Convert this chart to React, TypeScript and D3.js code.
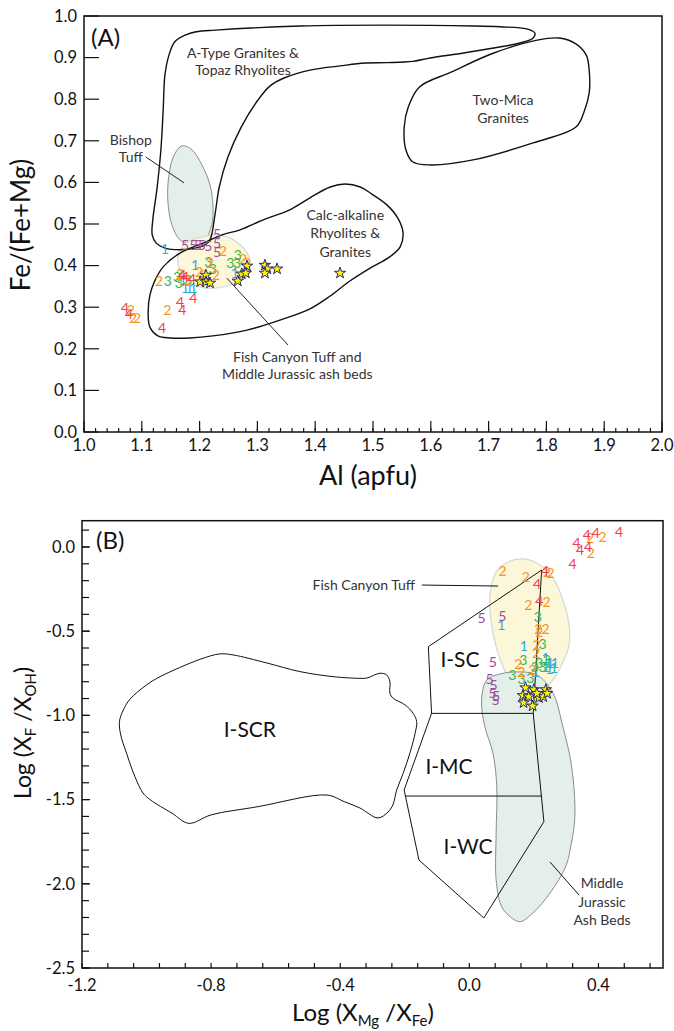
import * as d3 from "d3";

const FONT = "Lato, 'Open Sans', sans-serif";

const COLORS: Record<string, string> = {
  "1": "#29abe2",
  "2": "#f7941d",
  "3": "#3bb54a",
  "4": "#ec3f4c",
  "5": "#9c4f9f",
};

// ---------- Panel A : Fe/(Fe+Mg) vs Al (apfu) ----------
const aPts1 = [[1.14, 0.44], [1.261, 0.382], [1.192, 0.401], [1.175, 0.346], [1.182, 0.346], [1.189, 0.346], [1.171, 0.365]];
const aPts2 = [[1.24, 0.435], [1.275, 0.416], [1.282, 0.406], [1.218, 0.406], [1.199, 0.385], [1.206, 0.377], [1.228, 0.377],
  [1.178, 0.365], [1.13, 0.363], [1.166, 0.38], [1.144, 0.293], [1.081, 0.293], [1.085, 0.274], [1.092, 0.274]];
const aPts3 = [[1.253, 0.406], [1.265, 0.406], [1.266, 0.425], [1.215, 0.409], [1.223, 0.392], [1.145, 0.363], [1.161, 0.373],
  [1.164, 0.358], [1.18, 0.365]];
const aPts4 = [[1.17, 0.377], [1.175, 0.373], [1.187, 0.368], [1.189, 0.322], [1.166, 0.313], [1.17, 0.293], [1.135, 0.25],
  [1.071, 0.298], [1.078, 0.284]];
const aPts5 = [[1.175, 0.45], [1.189, 0.45], [1.197, 0.45], [1.204, 0.45], [1.215, 0.447], [1.23, 0.476], [1.23, 0.454], [1.23, 0.433]];
const aStars = [[1.282, 0.399], [1.273, 0.38], [1.28, 0.382], [1.266, 0.363], [1.313, 0.401], [1.317, 0.392], [1.313, 0.382],
  [1.334, 0.392], [1.201, 0.361], [1.211, 0.377], [1.211, 0.361], [1.218, 0.358], [1.443, 0.382]];

const aTypeField = [[1.218, 0.462], [1.227, 0.526], [1.234, 0.589], [1.249, 0.661], [1.272, 0.733], [1.301, 0.798], [1.322, 0.832],
  [1.346, 0.851], [1.391, 0.87], [1.443, 0.88], [1.486, 0.887], [1.524, 0.888], [1.569, 0.891], [1.599, 0.899], [1.657, 0.911],
  [1.709, 0.923], [1.754, 0.935], [1.777, 0.947], [1.78, 0.959], [1.766, 0.969], [1.72, 0.974], [1.673, 0.976], [1.524, 0.978],
  [1.375, 0.976], [1.227, 0.966], [1.194, 0.962], [1.175, 0.954], [1.157, 0.938], [1.147, 0.906], [1.14, 0.858], [1.137, 0.774],
  [1.133, 0.678], [1.126, 0.582], [1.119, 0.51], [1.118, 0.474], [1.125, 0.454], [1.14, 0.442], [1.166, 0.438], [1.192, 0.442],
  [1.209, 0.45]];
const twoMicaField = [[1.822, 0.947], [1.851, 0.933], [1.869, 0.906], [1.874, 0.87], [1.874, 0.815], [1.865, 0.769], [1.851, 0.733],
  [1.777, 0.695], [1.673, 0.654], [1.599, 0.642], [1.569, 0.649], [1.557, 0.678], [1.554, 0.733], [1.561, 0.781], [1.58, 0.829],
  [1.635, 0.865], [1.709, 0.911], [1.784, 0.942]];
const calcAlkField = [[1.27, 0.486], [1.31, 0.51], [1.356, 0.534], [1.391, 0.563], [1.426, 0.589], [1.452, 0.596], [1.478, 0.589],
  [1.498, 0.572], [1.524, 0.546], [1.543, 0.514], [1.552, 0.478], [1.547, 0.445], [1.529, 0.421], [1.495, 0.394], [1.46, 0.363],
  [1.426, 0.327], [1.391, 0.296], [1.339, 0.269], [1.282, 0.245], [1.223, 0.231], [1.183, 0.226], [1.149, 0.226], [1.128, 0.231],
  [1.114, 0.252], [1.111, 0.286], [1.114, 0.329], [1.123, 0.365], [1.137, 0.397], [1.166, 0.43], [1.206, 0.454], [1.239, 0.474]];
const bishopTuff = [[1.17, 0.688], [1.187, 0.678], [1.204, 0.642], [1.218, 0.594], [1.223, 0.546], [1.221, 0.498], [1.209, 0.462],
  [1.187, 0.45], [1.166, 0.462], [1.152, 0.498], [1.145, 0.558], [1.147, 0.618], [1.156, 0.666]];
const fishCanyonA = [[1.163, 0.425], [1.176, 0.454], [1.196, 0.466], [1.235, 0.474], [1.27, 0.45], [1.287, 0.413], [1.279, 0.373],
  [1.247, 0.351], [1.213, 0.346], [1.183, 0.358], [1.166, 0.389]];

const aXTicks = [1.0, 1.1, 1.2, 1.3, 1.4, 1.5, 1.6, 1.7, 1.8, 1.9, 2.0];
const aXLabels = ["1.0", "1.1", "1.2", "1.3", "1.4", "1.5", "1.6", "1.7", "1.8", "1.9", "2.0"];
const aYTicks = [0.0, 0.1, 0.2, 0.3, 0.4, 0.5, 0.6, 0.7, 0.8, 0.9, 1.0];
const aYLabels = ["0.0", "0.1", "0.2", "0.3", "0.4", "0.5", "0.6", "0.7", "0.8", "0.9", "1.0"];

// ---------- Panel B : Log(XF/XOH) vs Log(XMg/XFe) ----------
const bPts1 = [[0.099, -0.466], [0.169, -0.588], [0.236, -0.658], [0.25, -0.689], [0.265, -0.687], [0.248, -0.724], [0.262, -0.72],
  [0.205, -0.745], [0.237, -0.711]];
const bPts2 = [[0.374, 0.052], [0.413, 0.061], [0.376, -0.034], [0.103, -0.141], [0.175, -0.18], [0.241, -0.147], [0.252, -0.153],
  [0.239, -0.327], [0.183, -0.344], [0.214, -0.487], [0.236, -0.486], [0.217, -0.503], [0.208, -0.582], [0.207, -0.631],
  [0.152, -0.693], [0.161, -0.745], [0.195, -0.732]];
const bPts3 = [[0.212, -0.413], [0.227, -0.574], [0.167, -0.669], [0.217, -0.691], [0.24, -0.669], [0.227, -0.71], [0.133, -0.76],
  [0.162, -0.784], [0.189, -0.778], [0.203, -0.711]];
const bPts4 = [[0.364, 0.071], [0.392, 0.085], [0.464, 0.091], [0.332, 0.022], [0.343, -0.018], [0.368, -0.002], [0.32, -0.103],
  [0.234, -0.141], [0.21, -0.22], [0.217, -0.321]];
const bPts5 = [[0.038, -0.423], [0.102, -0.412], [0.073, -0.681], [0.063, -0.783], [0.075, -0.822], [0.072, -0.864], [0.083, -0.887],
  [0.081, -0.909]];
const bStars = [[0.174, -0.836], [0.2, -0.847], [0.237, -0.847], [0.166, -0.882], [0.184, -0.889], [0.216, -0.895], [0.229, -0.889],
  [0.168, -0.925], [0.196, -0.944], [0.241, -0.869], [0.209, -0.869]];

const iscrField = [[-0.773, -0.635], [-0.732, -0.641], [-0.627, -0.689], [-0.525, -0.74], [-0.422, -0.77], [-0.339, -0.78],
  [-0.317, -0.778], [-0.277, -0.75], [-0.256, -0.76], [-0.246, -0.8], [-0.246, -0.869], [-0.236, -0.898], [-0.199, -0.938],
  [-0.174, -0.988], [-0.163, -1.037], [-0.168, -1.106], [-0.184, -1.223], [-0.205, -1.344], [-0.225, -1.443], [-0.237, -1.532],
  [-0.252, -1.574], [-0.283, -1.609], [-0.339, -1.55], [-0.388, -1.512], [-0.441, -1.473], [-0.655, -1.542], [-0.8, -1.591],
  [-0.869, -1.641], [-0.921, -1.581], [-0.988, -1.502], [-1.011, -1.461], [-1.036, -1.364], [-1.062, -1.225], [-1.08, -1.116],
  [-1.084, -1.037], [-1.072, -0.968], [-1.051, -0.903], [-1.0, -0.819], [-0.958, -0.77], [-0.834, -0.667]];
const iFieldOutline = [[0.224, -0.137], [0.198, -0.988], [0.231, -1.631], [0.045, -2.203], [-0.156, -1.859], [-0.202, -1.443],
  [-0.117, -0.988], [-0.127, -0.592], [0.224, -0.137]];
const iscBase = [[-0.117, -0.988], [0.198, -0.988]];
const imcBase = [[-0.198, -1.479], [0.223, -1.479]];
const fishCanyonB = [[0.166, -0.071], [0.219, -0.107], [0.259, -0.184], [0.29, -0.315], [0.309, -0.463], [0.309, -0.582],
  [0.29, -0.683], [0.259, -0.79], [0.219, -0.861], [0.157, -0.861], [0.117, -0.76], [0.086, -0.612], [0.067, -0.434],
  [0.064, -0.285], [0.083, -0.149], [0.12, -0.089]];
const jurassicB = [[0.095, -0.754], [0.157, -0.742], [0.21, -0.76], [0.259, -0.867], [0.29, -1.069], [0.317, -1.305],
  [0.327, -1.601], [0.315, -1.77], [0.299, -1.895], [0.25, -2.055], [0.197, -2.173], [0.157, -2.225], [0.12, -2.185],
  [0.098, -2.126], [0.083, -1.977], [0.083, -1.698], [0.085, -1.423], [0.073, -1.223], [0.048, -1.067], [0.038, -0.909],
  [0.054, -0.79]];

const bXTicks = [-1.2, -0.8, -0.4, 0.0, 0.4];
const bXLabels = ["-1.2", "-0.8", "-0.4", "0.0", "0.4"];
const bYTicks = [0.0, -0.5, -1.0, -1.5, -2.0, -2.5];
const bYLabels = ["0.0", "-0.5", "-1.0", "-1.5", "-2.0", "-2.5"];

type Pt = number[];

function Numbers({ groups, x, y }: { groups: [string, Pt[]][]; x: any; y: any }) {
  return (
    <g fontFamily={FONT} fontSize={14} textAnchor="middle">
      {groups.map(([lab, pts]) =>
        pts.map((p, i) => (
          <text key={lab + i} x={x(p[0])} y={y(p[1])} dy="0.36em" fill={COLORS[lab]}>
            {lab}
          </text>
        ))
      )}
    </g>
  );
}

function Stars({ pts, x, y }: { pts: Pt[]; x: any; y: any }) {
  const star = d3.symbol().type(d3.symbolStar).size(40)() as string;
  return (
    <g>
      {pts.map((p, i) => (
        <path key={i} d={star} transform={`translate(${x(p[0])},${y(p[1])})`} fill="#fff200" stroke="#262a6b" strokeWidth={1} />
      ))}
    </g>
  );
}

export default function App() {
  const xA = d3.scaleLinear().domain([1, 2]).range([84, 662]);
  const yA = d3.scaleLinear().domain([0, 1]).range([432, 16]);
  const xB = d3.scaleLinear().domain([-1.2, 0.6]).range([82, 663]);
  const yB = d3.scaleLinear().domain([-2.5, 0.156]).range([968, 520.7]);

  const smoothA = d3.line<Pt>().x((d) => xA(d[0])).y((d) => yA(d[1])).curve(d3.curveCatmullRomClosed.alpha(0.5));
  const smoothB = d3.line<Pt>().x((d) => xB(d[0])).y((d) => yB(d[1])).curve(d3.curveCatmullRomClosed.alpha(0.5));
  const straightB = d3.line<Pt>().x((d) => xB(d[0])).y((d) => yB(d[1]));

  const aMinorX = d3.range(1, 2.001, 0.02);
  const bMinorX = d3.range(0, 23).map((i) => -1.2 + i * 0.08);
  const bMinorY = d3.range(0, 27).map((i) => -2.5 + i * 0.1);

  const lbl = { fontFamily: FONT, fontSize: 14, fill: "#333", textAnchor: "middle" as const };

  return (
    <svg width={674} height={1031} style={{ position: "absolute", left: 0, top: 0 }} xmlns="http://www.w3.org/2000/svg">
      <rect width={674} height={1031} fill="#fff" />

      {/* ================= Panel A ================= */}
      <path d={smoothA(bishopTuff) as string} fill="#e3efe8" stroke="#8c8c8c" strokeWidth={1} />
      <path d={smoothA(fishCanyonA) as string} fill="#fcf7d8" stroke="#d6d6d6" strokeWidth={1.2} />
      <g fill="none" stroke="#111" strokeWidth={1.4}>
        <path d={smoothA(aTypeField) as string} />
        <path d={smoothA(twoMicaField) as string} />
        <path d={smoothA(calcAlkField) as string} />
      </g>
      <g stroke="#222" strokeWidth={1}>
        <line x1={xA(1.107)} y1={yA(0.661)} x2={xA(1.173)} y2={yA(0.599)} />
        <line x1={xA(1.247)} y1={yA(0.37)} x2={xA(1.353)} y2={yA(0.209)} />
      </g>
      <g {...lbl}>
        <text x={xA(1.275)} y={yA(0.911)} dy="0.35em">A-Type Granites &amp;</text>
        <text x={xA(1.275)} y={yA(0.87)} dy="0.35em">Topaz Rhyolites</text>
        <text x={xA(1.725)} y={yA(0.798)} dy="0.35em">Two-Mica</text>
        <text x={xA(1.725)} y={yA(0.755)} dy="0.35em">Granites</text>
        <text x={xA(1.452)} y={yA(0.522)} dy="0.35em">Calc-alkaline</text>
        <text x={xA(1.452)} y={yA(0.478)} dy="0.35em">Rhyolites &amp;</text>
        <text x={xA(1.452)} y={yA(0.433)} dy="0.35em">Granites</text>
        <text x={xA(1.081)} y={yA(0.702)} dy="0.35em">Bishop</text>
        <text x={xA(1.081)} y={yA(0.661)} dy="0.35em">Tuff</text>
        <text x={xA(1.369)} y={yA(0.18)} dy="0.35em">Fish Canyon Tuff and</text>
        <text x={xA(1.369)} y={yA(0.139)} dy="0.35em">Middle Jurassic ash beds</text>
      </g>
      <Numbers groups={[["1", aPts1], ["5", aPts5], ["3", aPts3], ["2", aPts2], ["4", aPts4]]} x={xA} y={yA} />
      <Stars pts={aStars} x={xA} y={yA} />

      <rect x={84} y={16} width={578} height={416} fill="none" stroke="#111" strokeWidth={1.5} />
      <g stroke="#111" strokeWidth={1.2}>
        {aMinorX.map((v, i) => (
          <line key={i} x1={xA(v)} x2={xA(v)} y1={432} y2={428} />
        ))}
        {aXTicks.map((v) => (
          <line key={v} x1={xA(v)} x2={xA(v)} y1={432} y2={421} />
        ))}
        {aYTicks.map((v) => (
          <line key={v} x1={84} x2={99} y1={yA(v)} y2={yA(v)} />
        ))}
      </g>
      <g fontFamily={FONT} fontSize={16.5} fill="#111">
        {aXTicks.map((v, i) => (
          <text key={v} x={xA(v)} y={451} textAnchor="middle">{aXLabels[i]}</text>
        ))}
        {aYTicks.map((v, i) => (
          <text key={v} x={77} y={yA(v)} dy="0.35em" textAnchor="end">{aYLabels[i]}</text>
        ))}
      </g>
      <text x={91} y={46} fontFamily={FONT} fontSize={24} fill="#111">(A)</text>
      <text x={368} y={485} fontFamily={FONT} fontSize={27} fill="#111" textAnchor="middle">Al (apfu)</text>
      <text transform="translate(30,225) rotate(-90)" fontFamily={FONT} fontSize={26} fill="#111" textAnchor="middle">Fe/(Fe+Mg)</text>

      {/* ================= Panel B ================= */}
      <path d={smoothB(fishCanyonB) as string} fill="#fcf7d8" stroke="#d6d6d6" strokeWidth={1.2} />
      <path d={smoothB(jurassicB) as string} fill="#e3efe8" stroke="#8c8c8c" strokeWidth={1} />
      <g fill="none" stroke="#111" strokeWidth={1}>
        <path d={smoothB(iscrField) as string} />
        <path d={straightB(iFieldOutline) as string} />
        <path d={straightB(iscBase) as string} />
        <path d={straightB(imcBase) as string} />
        <line x1={xB(-0.147)} y1={yB(-0.226)} x2={xB(0.089)} y2={yB(-0.232)} />
        <line x1={xB(0.25)} y1={yB(-1.871)} x2={xB(0.34)} y2={yB(-2.067)} />
      </g>
      <g {...lbl}>
        <text x={xB(-0.168)} y={yB(-0.226)} dy="0.35em" textAnchor="end">Fish Canyon Tuff</text>
        <text x={xB(0.411)} y={yB(-1.995)} dy="0.35em">Middle</text>
        <text x={xB(0.411)} y={yB(-2.108)} dy="0.35em">Jurassic</text>
        <text x={xB(0.411)} y={yB(-2.215)} dy="0.35em">Ash Beds</text>
      </g>
      <g fontFamily={FONT} fontSize={21} fill="#111" textAnchor="middle">
        <text x={xB(-0.029)} y={yB(-0.671)} dy="0.35em">I-SC</text>
        <text x={xB(-0.063)} y={yB(-1.306)} dy="0.35em">I-MC</text>
        <text x={xB(-0.004)} y={yB(-1.781)} dy="0.35em">I-WC</text>
        <text x={xB(-0.68)} y={yB(-1.087)} dy="0.35em">I-SCR</text>
      </g>
      <Numbers groups={[["1", bPts1], ["5", bPts5], ["3", bPts3], ["2", bPts2], ["4", bPts4]]} x={xB} y={yB} />
      <Stars pts={bStars} x={xB} y={yB} />

      <rect x={82} y={520.7} width={581} height={447.3} fill="none" stroke="#111" strokeWidth={1.5} />
      <g stroke="#111" strokeWidth={1.2}>
        {bMinorX.map((v, i) => (
          <line key={i} x1={xB(v)} x2={xB(v)} y1={968} y2={963} />
        ))}
        {bMinorY.map((v, i) => (
          <line key={i} x1={82} x2={89} y1={yB(v)} y2={yB(v)} />
        ))}
        {bYTicks.map((v) => (
          <line key={v} x1={82} x2={90} y1={yB(v)} y2={yB(v)} />
        ))}
      </g>
      <g fontFamily={FONT} fontSize={16.5} fill="#111">
        {bXTicks.map((v, i) => (
          <text key={v} x={xB(v)} y={991} textAnchor="middle">{bXLabels[i]}</text>
        ))}
        {bYTicks.map((v, i) => (
          <text key={v} x={75} y={yB(v)} dy="0.35em" textAnchor="end">{bYLabels[i]}</text>
        ))}
      </g>
      <text x={96} y={549} fontFamily={FONT} fontSize={24} fill="#111">(B)</text>
      <text x={363} y={1021} fontFamily={FONT} fontSize={24} fill="#111" textAnchor="middle">
        Log (X<tspan fontSize={15} dy={5}>Mg</tspan><tspan dy={-5}> /X</tspan><tspan fontSize={15} dy={5}>Fe</tspan><tspan dy={-5}>)</tspan>
      </text>
      <text transform="translate(31,733) rotate(-90)" fontFamily={FONT} fontSize={23} fill="#111" textAnchor="middle">
        Log (X<tspan fontSize={15} dy={5}>F</tspan><tspan dy={-5}> /X</tspan><tspan fontSize={15} dy={5}>OH</tspan><tspan dy={-5}>)</tspan>
      </text>
    </svg>
  );
}
